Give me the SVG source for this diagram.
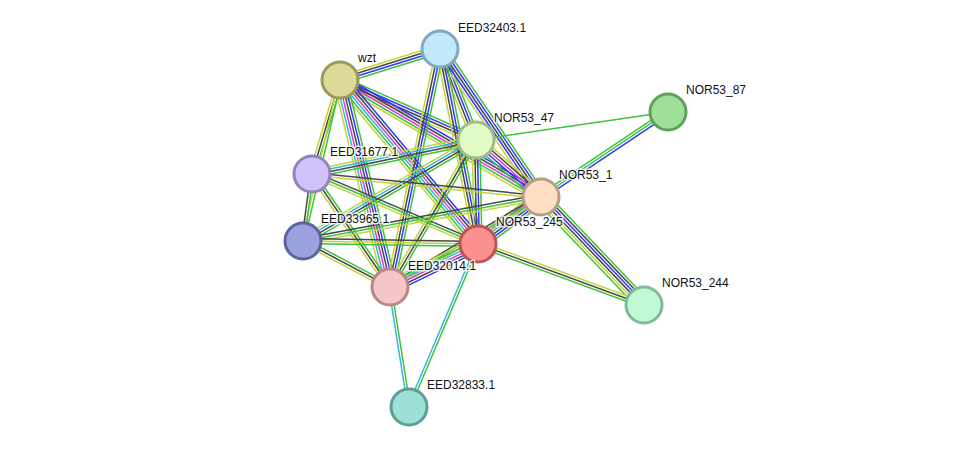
<svg xmlns="http://www.w3.org/2000/svg" width="975" height="452" viewBox="0 0 975 452">
<style>
line{stroke-width:1.5;fill:none}
.g{stroke:#3cc43c}.k{stroke:#474747}.b{stroke:#3535ff}.m{stroke:#d83ad8}.c{stroke:#36b6e0}.y{stroke:#c4d43a}
circle{stroke-width:3}
text{font-family:"Liberation Sans",Arial,sans-serif;font-size:12px;fill:#111;stroke:#fff;stroke-width:3px;stroke-opacity:0.8;paint-order:stroke;stroke-linejoin:round}
</style>
<rect width="975" height="452" fill="#fff"/>
<g id="edges">
<g transform="translate(340 80) rotate(-17.22)"><line class="y" x2="104.7" y1="-3.9" y2="-3.9"/><line class="k" x2="104.7" y1="-1.3" y2="-1.3"/><line class="b" x2="104.7" y1="1.3" y2="1.3"/><line class="g" x2="104.7" y1="3.9" y2="3.9"/></g>
<g transform="translate(340 80) rotate(23.81)"><line class="g" x2="148.7" y1="-3.9" y2="-3.9"/><line class="b" x2="148.7" y1="-1.3" y2="-1.3"/><line class="k" x2="148.7" y1="1.3" y2="1.3"/><line class="y" x2="148.7" y1="3.9" y2="3.9"/></g>
<g transform="translate(340 80) rotate(30.20)"><line class="b" x2="232.6" y1="-5.2" y2="-5.2"/><line class="k" x2="232.6" y1="-2.6" y2="-2.6"/><line class="m" x2="232.6" y1="0" y2="0"/><line class="g" x2="232.6" y1="2.6" y2="2.6"/><line class="y" x2="232.6" y1="5.2" y2="5.2"/></g>
<g transform="translate(340 80) rotate(49.92)"><line class="b" x2="214.3" y1="-6.5" y2="-6.5"/><line class="k" x2="214.3" y1="-3.9" y2="-3.9"/><line class="m" x2="214.3" y1="-1.3" y2="-1.3"/><line class="c" x2="214.3" y1="1.3" y2="1.3"/><line class="g" x2="214.3" y1="3.9" y2="3.9"/><line class="y" x2="214.3" y1="6.5" y2="6.5"/></g>
<g transform="translate(340 80) rotate(76.42)"><line class="g" x2="213" y1="-6.5" y2="-6.5"/><line class="b" x2="213" y1="-3.9" y2="-3.9"/><line class="k" x2="213" y1="-1.3" y2="-1.3"/><line class="m" x2="213" y1="1.3" y2="1.3"/><line class="c" x2="213" y1="3.9" y2="3.9"/><line class="y" x2="213" y1="6.5" y2="6.5"/></g>
<g transform="translate(340 80) rotate(106.59)"><line class="g" x2="98.1" y1="-2.6" y2="-2.6"/><line class="k" x2="98.1" y1="0" y2="0"/><line class="y" x2="98.1" y1="2.6" y2="2.6"/></g>
<g transform="translate(340 80) rotate(102.94)"><line class="g" x2="165.2" y1="-1.3" y2="-1.3"/><line class="y" x2="165.2" y1="1.3" y2="1.3"/></g>
<g transform="translate(440 49) rotate(68.42)"><line class="g" x2="97.9" y1="-3.9" y2="-3.9"/><line class="b" x2="97.9" y1="-1.3" y2="-1.3"/><line class="k" x2="97.9" y1="1.3" y2="1.3"/><line class="y" x2="97.9" y1="3.9" y2="3.9"/></g>
<g transform="translate(440 49) rotate(55.69)"><line class="g" x2="179.2" y1="-5.2" y2="-5.2"/><line class="b" x2="179.2" y1="-2.6" y2="-2.6"/><line class="k" x2="179.2" y1="0" y2="0"/><line class="b" x2="179.2" y1="2.6" y2="2.6"/><line class="y" x2="179.2" y1="5.2" y2="5.2"/></g>
<g transform="translate(440 49) rotate(78.97)"><line class="g" x2="198.7" y1="-3.9" y2="-3.9"/><line class="b" x2="198.7" y1="-1.3" y2="-1.3"/><line class="k" x2="198.7" y1="1.3" y2="1.3"/><line class="y" x2="198.7" y1="3.9" y2="3.9"/></g>
<g transform="translate(440 49) rotate(101.86)"><line class="g" x2="243.2" y1="-3.9" y2="-3.9"/><line class="b" x2="243.2" y1="-1.3" y2="-1.3"/><line class="k" x2="243.2" y1="1.3" y2="1.3"/><line class="y" x2="243.2" y1="3.9" y2="3.9"/></g>
<g transform="translate(476 140) rotate(-8.30)"><line class="g" x2="194" y1="0" y2="0"/></g>
<g transform="translate(541 197) rotate(-33.80)"><line class="g" x2="152.8" y1="-2.6" y2="-2.6"/><line class="g" x2="152.8" y1="0" y2="0"/><line class="b" x2="152.8" y1="2.6" y2="2.6"/></g>
<g transform="translate(476 140) rotate(168.29)"><line class="g" x2="167.5" y1="-3.9" y2="-3.9"/><line class="k" x2="167.5" y1="-1.3" y2="-1.3"/><line class="c" x2="167.5" y1="1.3" y2="1.3"/><line class="y" x2="167.5" y1="3.9" y2="3.9"/></g>
<g transform="translate(476 140) rotate(149.72)"><line class="g" x2="200.3" y1="-3.9" y2="-3.9"/><line class="k" x2="200.3" y1="-1.3" y2="-1.3"/><line class="c" x2="200.3" y1="1.3" y2="1.3"/><line class="y" x2="200.3" y1="3.9" y2="3.9"/></g>
<g transform="translate(476 140) rotate(88.90)"><line class="g" x2="104" y1="-3.9" y2="-3.9"/><line class="b" x2="104" y1="-1.3" y2="-1.3"/><line class="k" x2="104" y1="1.3" y2="1.3"/><line class="y" x2="104" y1="3.9" y2="3.9"/></g>
<g transform="translate(476 140) rotate(120.33)"><line class="g" x2="170.3" y1="-2.6" y2="-2.6"/><line class="k" x2="170.3" y1="0" y2="0"/><line class="y" x2="170.3" y1="2.6" y2="2.6"/></g>
<g transform="translate(476 140) rotate(41.25)"><line class="y" x2="86.5" y1="-5.2" y2="-5.2"/><line class="k" x2="86.5" y1="-2.6" y2="-2.6"/><line class="m" x2="86.5" y1="0" y2="0"/><line class="b" x2="86.5" y1="2.6" y2="2.6"/><line class="g" x2="86.5" y1="5.2" y2="5.2"/></g>
<g transform="translate(312 174) rotate(5.74)"><line class="k" x2="230.2" y1="-1.3" y2="-1.3"/><line class="y" x2="230.2" y1="1.3" y2="1.3"/></g>
<g transform="translate(312 174) rotate(22.87)"><line class="k" x2="180.2" y1="-2.6" y2="-2.6"/><line class="g" x2="180.2" y1="0" y2="0"/><line class="y" x2="180.2" y1="2.6" y2="2.6"/></g>
<g transform="translate(312 174) rotate(55.38)"><line class="g" x2="137.3" y1="-2.6" y2="-2.6"/><line class="k" x2="137.3" y1="0" y2="0"/><line class="y" x2="137.3" y1="2.6" y2="2.6"/></g>
<g transform="translate(312 174) rotate(97.65)"><line class="g" x2="67.6" y1="-1.3" y2="-1.3"/><line class="k" x2="67.6" y1="1.3" y2="1.3"/></g>
<g transform="translate(303 241) rotate(-10.47)"><line class="k" x2="242" y1="-2.6" y2="-2.6"/><line class="g" x2="242" y1="0" y2="0"/><line class="y" x2="242" y1="2.6" y2="2.6"/></g>
<g transform="translate(303 241) rotate(0.98)"><line class="k" x2="175" y1="-2.6" y2="-2.6"/><line class="y" x2="175" y1="0" y2="0"/><line class="g" x2="175" y1="2.6" y2="2.6"/></g>
<g transform="translate(303 241) rotate(27.87)"><line class="g" x2="98.4" y1="-2.6" y2="-2.6"/><line class="k" x2="98.4" y1="0" y2="0"/><line class="y" x2="98.4" y1="2.6" y2="2.6"/></g>
<g transform="translate(541 197) rotate(143.28)"><line class="g" x2="78.6" y1="-6.5" y2="-6.5"/><line class="b" x2="78.6" y1="-3.9" y2="-3.9"/><line class="k" x2="78.6" y1="-1.3" y2="-1.3"/><line class="c" x2="78.6" y1="1.3" y2="1.3"/><line class="m" x2="78.6" y1="3.9" y2="3.9"/><line class="y" x2="78.6" y1="6.5" y2="6.5"/></g>
<g transform="translate(541 197) rotate(149.20)"><line class="y" x2="175.8" y1="-2.6" y2="-2.6"/><line class="g" x2="175.8" y1="0" y2="0"/><line class="k" x2="175.8" y1="2.6" y2="2.6"/></g>
<g transform="translate(541 197) rotate(46.36)"><line class="g" x2="149.2" y1="-6.5" y2="-6.5"/><line class="k" x2="149.2" y1="-3.9" y2="-3.9"/><line class="b" x2="149.2" y1="-1.3" y2="-1.3"/><line class="k" x2="149.2" y1="1.3" y2="1.3"/><line class="y" x2="149.2" y1="3.9" y2="3.9"/><line class="g" x2="149.2" y1="6.5" y2="6.5"/></g>
<g transform="translate(478 244) rotate(153.96)"><line class="b" x2="97.9" y1="-6.5" y2="-6.5"/><line class="k" x2="97.9" y1="-3.9" y2="-3.9"/><line class="m" x2="97.9" y1="-1.3" y2="-1.3"/><line class="c" x2="97.9" y1="1.3" y2="1.3"/><line class="g" x2="97.9" y1="3.9" y2="3.9"/><line class="y" x2="97.9" y1="6.5" y2="6.5"/></g>
<g transform="translate(478 244) rotate(20.17)"><line class="y" x2="176.9" y1="-2.6" y2="-2.6"/><line class="k" x2="176.9" y1="0" y2="0"/><line class="g" x2="176.9" y1="2.6" y2="2.6"/></g>
<g transform="translate(478 244) rotate(112.94)"><line class="g" x2="177" y1="-1.3" y2="-1.3"/><line class="c" x2="177" y1="1.3" y2="1.3"/></g>
<g transform="translate(390 287) rotate(81.00)"><line class="g" x2="121.5" y1="-1.3" y2="-1.3"/><line class="c" x2="121.5" y1="1.3" y2="1.3"/></g>
</g>
<g id="n-EED32403.1"><circle cx="440" cy="49" r="18" fill="#c2e8fc" stroke="#7fa8c2"/><text x="458" y="32">EED32403.1</text></g>
<g id="n-wzt"><circle cx="340" cy="80" r="18" fill="#dedb98" stroke="#9c9a5a"/><text x="358" y="62">wzt</text></g>
<g id="n-NOR53_87"><circle cx="668" cy="112" r="18" fill="#9ee09a" stroke="#5ea05a"/><text x="686" y="94">NOR53_87</text></g>
<g id="n-NOR53_47"><circle cx="476" cy="140" r="18" fill="#e2fcc8" stroke="#a2bc88"/><text x="494" y="122">NOR53_47</text></g>
<g id="n-EED31677.1"><circle cx="312" cy="174" r="18" fill="#d2c2fc" stroke="#9484bc"/><text x="330" y="156">EED31677.1</text></g>
<g id="n-NOR53_1"><circle cx="541" cy="197" r="18" fill="#fde0c2" stroke="#b89e86"/><text x="559" y="179">NOR53_1</text></g>
<g id="n-EED33965.1"><circle cx="303" cy="241" r="18" fill="#9aa3e0" stroke="#5a63a0"/><text x="321" y="223">EED33965.1</text></g>
<g id="n-NOR53_245"><circle cx="478" cy="244" r="18" fill="#fc8f8f" stroke="#bc5454"/><text x="496" y="226">NOR53_245</text></g>
<g id="n-EED32014.1"><circle cx="390" cy="287" r="18" fill="#f6c6c6" stroke="#b88888"/><text x="408" y="270">EED32014.1</text></g>
<g id="n-NOR53_244"><circle cx="644" cy="305" r="18" fill="#c0fad5" stroke="#80bc98"/><text x="662" y="287">NOR53_244</text></g>
<g id="n-EED32833.1"><circle cx="409" cy="407" r="18" fill="#9ce0d6" stroke="#5c9e96"/><text x="427" y="389">EED32833.1</text></g>
</svg>
